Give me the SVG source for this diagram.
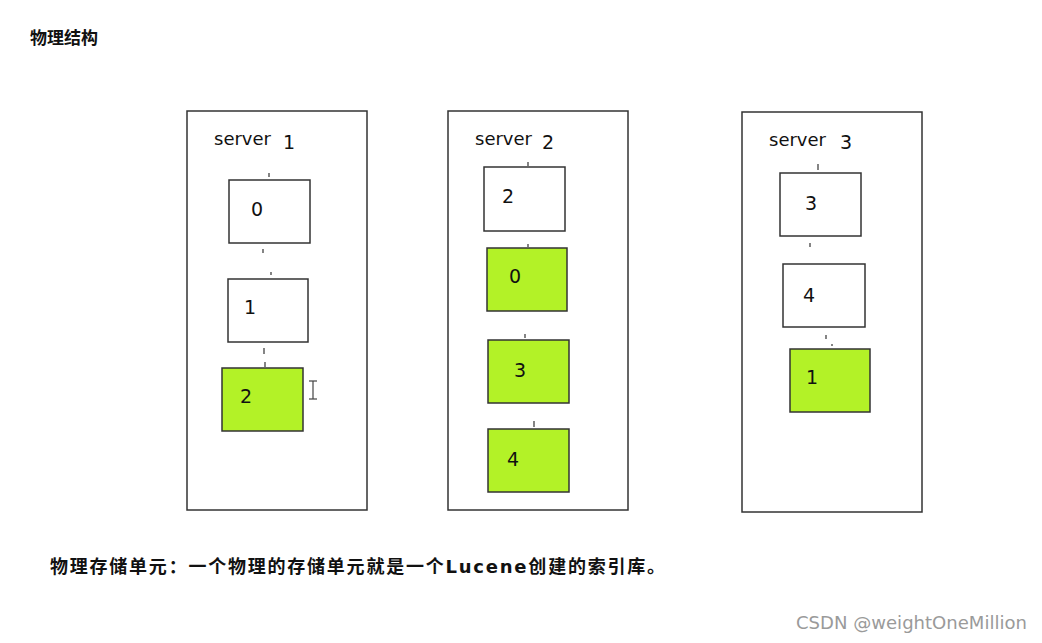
<svg xmlns="http://www.w3.org/2000/svg" width="1042" height="643" viewBox="0 0 1042 643">
<style>
text{font-family:"DejaVu Sans","Noto Sans CJK SC",sans-serif;fill:#111}
.srv{fill:none;stroke:#333;stroke-width:1.5}
.n{fill:#fff;stroke:#333;stroke-width:1.5}
.g{fill:#b3f227;stroke:#333;stroke-width:1.5}
.lbl{font-size:18px}
.num{font-size:19px}
.tick{stroke:#333;stroke-width:1.2}
</style>
<rect width="1042" height="643" fill="#fff"/>
<text x="30" y="44" font-size="17" font-weight="600">物理结构</text>
<g id="server1"><rect class="srv" x="187" y="111" width="180" height="399"/><text class="lbl" x="214" y="145">server</text><text class="num" x="283" y="149">1</text></g>
<g id="server2"><rect class="srv" x="448" y="111" width="180" height="399"/><text class="lbl" x="475" y="145">server</text><text class="num" x="542" y="149">2</text></g>
<g id="server3"><rect class="srv" x="742" y="112" width="180" height="400"/><text class="lbl" x="769" y="146">server</text><text class="num" x="840" y="149">3</text></g>
<g id="s1n0"><rect class="n" x="229" y="180" width="81" height="63"/><text class="num" x="251" y="216">0</text></g>
<g id="s1n1"><rect class="n" x="228" y="279" width="80" height="63"/><text class="num" x="244" y="314">1</text></g>
<g id="s1n2"><rect class="g" x="222" y="368" width="81" height="63"/><text class="num" x="240" y="403">2</text></g>
<g id="s2n2"><rect class="n" x="484" y="167" width="81" height="64"/><text class="num" x="502" y="203">2</text></g>
<g id="s2n0"><rect class="g" x="487" y="248" width="80" height="63"/><text class="num" x="509" y="283">0</text></g>
<g id="s2n3"><rect class="g" x="488" y="340" width="81" height="63"/><text class="num" x="514" y="377">3</text></g>
<g id="s2n4"><rect class="g" x="488" y="429" width="81" height="63"/><text class="num" x="507" y="466">4</text></g>
<g id="s3n3"><rect class="n" x="780" y="173" width="81" height="63"/><text class="num" x="805" y="210">3</text></g>
<g id="s3n4"><rect class="n" x="783" y="264" width="82" height="63"/><text class="num" x="803" y="302">4</text></g>
<g id="s3n1"><rect class="g" x="790" y="349" width="80" height="63"/><text class="num" x="806" y="384">1</text></g>
<g id="connectors">
<line class="tick" x1="269" y1="173" x2="269" y2="177"/>
<line class="tick" x1="263" y1="249" x2="263" y2="253"/>
<line class="tick" x1="271" y1="272" x2="271" y2="275"/>
<line class="tick" x1="264" y1="348" x2="264" y2="354"/>
<line class="tick" x1="265" y1="362" x2="265" y2="367"/>
<line class="tick" x1="528" y1="162" x2="528" y2="166"/>
<line class="tick" x1="528" y1="244" x2="528" y2="247"/>
<line class="tick" x1="525" y1="334" x2="525" y2="338"/>
<line class="tick" x1="534" y1="421" x2="534" y2="427"/>
<line class="tick" x1="818" y1="164" x2="818" y2="170"/>
<line class="tick" x1="810" y1="243" x2="810" y2="247"/>
<line class="tick" x1="826" y1="335" x2="826" y2="339"/>
<line class="tick" x1="832" y1="344" x2="832" y2="346"/>
</g>
<g id="cursor" stroke="#444" stroke-width="1.2" fill="none"><line x1="313" y1="381" x2="313" y2="399"/><line x1="309" y1="381" x2="317" y2="381"/><line x1="309" y1="399" x2="317" y2="399"/></g>
<text x="50" y="573" font-size="18" font-weight="600" textLength="615" lengthAdjust="spacing">物理存储单元：一个物理的存储单元就是一个Lucene创建的索引库。</text>
<text x="796" y="629" font-size="18" textLength="231" lengthAdjust="spacingAndGlyphs" style="fill:#9a9a9a">CSDN @weightOneMillion</text>
</svg>
